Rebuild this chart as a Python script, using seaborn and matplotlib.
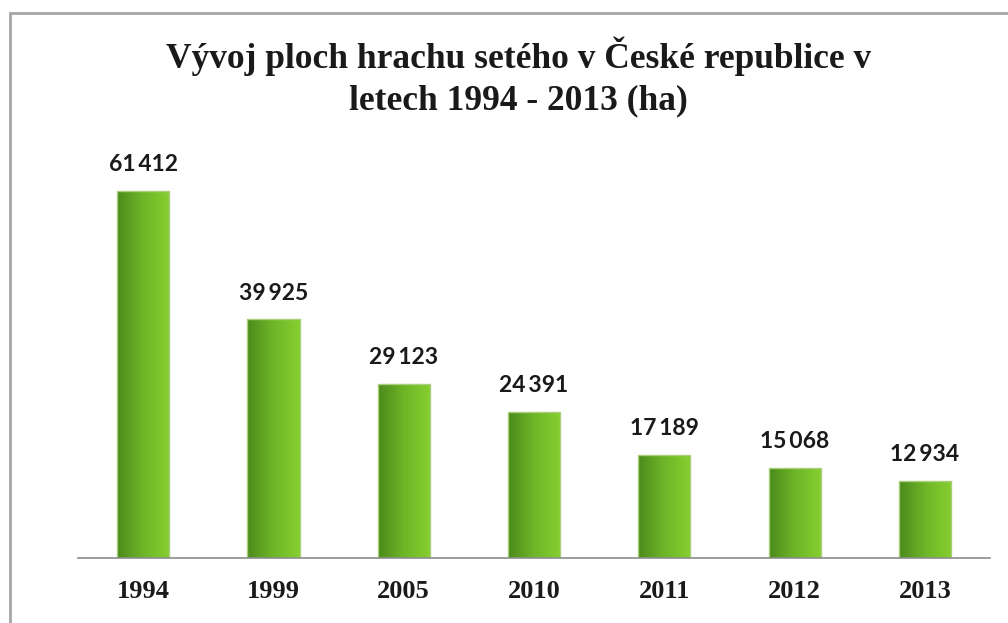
import matplotlib
matplotlib.use("Agg")
import matplotlib.pyplot as plt
import matplotlib.patches as mpatches
from matplotlib.colors import LinearSegmentedColormap
import numpy as np
import pandas as pd
import seaborn as sns

years = ["1994", "1999", "2005", "2010", "2011", "2012", "2013"]
area_ha = [61412, 39925, 29123, 24391, 17189, 15068, 12934]

title_lines = ["Vývoj ploch hrachu setého v České republice v",
               "letech 1994 - 2013 (ha)"]

df = pd.DataFrame({"rok": years, "plocha": area_ha})

sns.set_style("white")
fig = plt.figure(figsize=(10.08, 6.23), dpi=100)
ax = fig.add_axes([0.0774, 0.1043, 0.9048, 0.6714])

sns.barplot(data=df, x="rok", y="plocha", ax=ax, width=0.4,
            color="#6cb326", edgecolor="#a9cf7a", linewidth=1.0)

# horizontal gradient inside each bar, dark green on the left
green = LinearSegmentedColormap.from_list("g", ["#4b8a1b", "#6fb628", "#86cf2f"])
grad = np.linspace(0, 1, 256).reshape(1, -1)
for bar in ax.patches:
    x0, y0 = bar.get_x(), bar.get_y()
    w, h = bar.get_width(), bar.get_height()
    im = ax.imshow(grad, cmap=green, aspect="auto", interpolation="bicubic",
                   extent=[x0, x0 + w, y0, y0 + h], zorder=bar.get_zorder() + 0.1)
    im.set_clip_path(bar)
    bar.set_zorder(bar.get_zorder() + 0.2)
    bar.set_facecolor("none")

for bar, v in zip(ax.patches, area_ha):
    label = f"{v:,}".replace(",", "\u2009")
    ax.annotate(label, (bar.get_x() + bar.get_width() / 2, bar.get_height()),
                xytext=(0, 19), textcoords="offset points", ha="center", va="center",
                fontsize=16.5, fontweight="bold", family="Lato", color="#1a1a1a")

ax.set_xlim(-0.5, 6.5)
ax.set_ylim(0, 70000)
ax.set_xlabel("")
ax.set_ylabel("")
ax.set_yticks([])
for side in ["left", "right", "top"]:
    ax.spines[side].set_visible(False)
ax.spines["bottom"].set_color("#8c8c8c")
ax.spines["bottom"].set_linewidth(1.2)
ax.tick_params(axis="x", length=0, pad=16)
for t in ax.get_xticklabels():
    t.set_fontfamily("Liberation Serif")
    t.set_fontweight("bold")
    t.set_fontsize(19)
    t.set_color("#1a1a1a")

for line, base_y in zip(title_lines, [68, 109]):
    fig.text(0.514, 1 - base_y / 623, line, ha="center", va="baseline",
             fontsize=25.5, fontweight="bold", family="Liberation Serif",
             color="#1a1a1a")

# chart area border, cut off by the right and bottom image edges
fig.patches.append(mpatches.Rectangle((10 / 1008, -0.05), 1.1, 1 - 13 / 623 + 0.05,
                                      transform=fig.transFigure, fill=False,
                                      edgecolor="#a6a6a6", linewidth=2))

fig.savefig("out.png", dpi=100)
